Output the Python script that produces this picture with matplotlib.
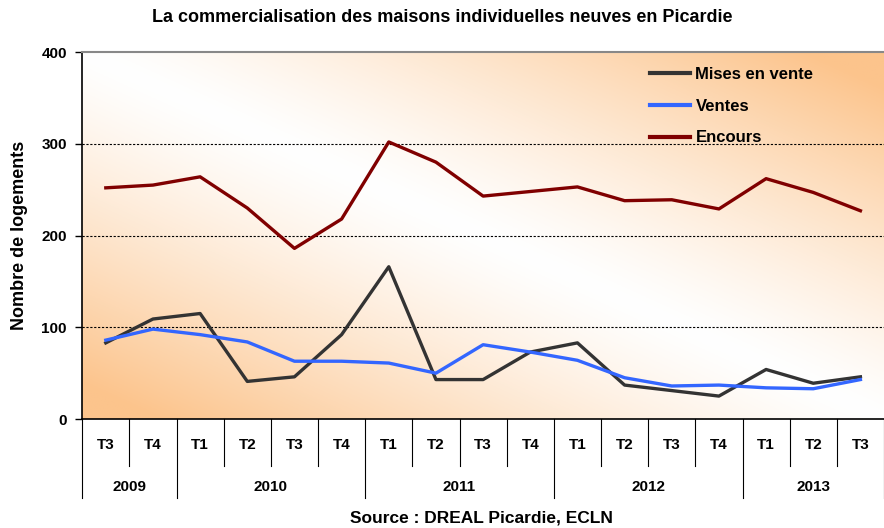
import matplotlib
matplotlib.use("Agg")
import matplotlib.pyplot as plt
import numpy as np
from matplotlib.transforms import blended_transform_factory

plt.rcParams['font.family'] = ['Liberation Sans', 'DejaVu Sans']

quarters = ["T3", "T4", "T1", "T2", "T3", "T4", "T1", "T2", "T3", "T4",
            "T1", "T2", "T3", "T4", "T1", "T2", "T3"]
years = ["2009", "2010", "2011", "2012", "2013"]
year_counts = [2, 4, 4, 4, 3]

mises_en_vente = [83, 109, 115, 41, 46, 92, 166, 43, 43, 73, 83, 37, 31, 25, 54, 39, 46]
ventes = [86, 98, 92, 84, 63, 63, 61, 50, 81, 73, 64, 45, 36, 37, 34, 33, 43]
encours = [252, 255, 264, 230, 186, 218, 302, 280, 243, 248, 253, 238, 239, 229, 262, 247, 227]

fig = plt.figure(figsize=(8.84, 5.28), dpi=100)
ax = fig.add_axes([0.093, 0.2064, 0.907, 0.695])

n = len(quarters)
x = np.arange(n)
ax.set_xlim(-0.5, n - 0.5)
ax.set_ylim(0, 400)

# gradient background
gx, gy = np.meshgrid(np.linspace(0, 1, 300), np.linspace(0, 1, 200))
t = np.clip(np.abs(gx + gy - 1.0) * 1.1, 0, 1) ** 1.25
orange = np.array([252, 196, 140]) / 255.0
white = np.array([1.0, 1.0, 1.0])
img = white[None, None, :] * (1 - t[..., None]) + orange[None, None, :] * t[..., None]
ax.imshow(img, extent=[0, 1, 0, 1], transform=ax.transAxes, origin='lower',
          aspect='auto', zorder=0)

for yv in [100, 200, 300]:
    ax.axhline(yv, color='black', lw=0.8, ls=(0, (2, 1.5)), zorder=1)

ax.plot(x, mises_en_vente, color='#333333', lw=2.4, label='Mises en vente', zorder=3)
ax.plot(x, ventes, color='#3366FF', lw=2.4, label='Ventes', zorder=3)
ax.plot(x, encours, color='#800000', lw=2.4, label='Encours', zorder=3)

ax.set_yticks([0, 100, 200, 300, 400])
ax.set_yticklabels(["0", "100", "200", "300", "400"], fontweight='bold', fontsize=11)
ax.tick_params(axis='y', direction='out', length=5, width=1, pad=6)
ax.set_ylabel("Nombre de logements", fontweight='bold', fontsize=13, labelpad=10)

ax.set_xticks([])
ax.spines['right'].set_visible(False)
ax.spines['top'].set_color('#888888')
ax.spines['top'].set_linewidth(1.5)
ax.spines['left'].set_linewidth(1.2)
ax.spines['bottom'].set_linewidth(1.2)

trans = blended_transform_factory(ax.transData, fig.transFigure)

def fy(py):
    return 1 - py / 528.0

# quarter labels
for i, q in enumerate(quarters):
    fig.text(i, fy(445), q, transform=trans, ha='center', va='center',
             fontweight='bold', fontsize=11)
# separators
boundaries = [-0.5]
c = -0.5
for cnt in year_counts:
    c += cnt
    boundaries.append(c)
for b in np.arange(-0.5, n, 1.0):
    if any(abs(b - bb) < 1e-6 for bb in boundaries):
        y_end = fy(498)
    else:
        y_end = fy(466)
    fig.add_artist(plt.Line2D([b, b], [fy(419), y_end], transform=trans,
                              color='black', lw=0.8))
# year labels
start = -0.5
for yr, cnt in zip(years, year_counts):
    fig.text(start + cnt / 2.0, fy(487), yr, transform=trans, ha='center',
             va='center', fontweight='bold', fontsize=11)
    start += cnt

fig.text(0.5, 1 - 18 / 528.0, "La commercialisation des maisons individuelles neuves en Picardie",
         ha='center', va='center', fontweight='bold', fontsize=13)
fig.text(0.545, 1 - 518 / 528.0, "Source : DREAL Picardie, ECLN",
         ha='center', va='center', fontweight='bold', fontsize=12.5)

leg = ax.legend(loc='upper left', bbox_to_anchor=(0.69, 1.0), frameon=False,
                prop={'weight': 'bold', 'size': 12}, handlelength=2.35,
                labelspacing=1.0, handletextpad=0.35, borderpad=0.4)
for h in leg.get_lines():
    h.set_linewidth(3)

fig.savefig("out.png", dpi=100)
